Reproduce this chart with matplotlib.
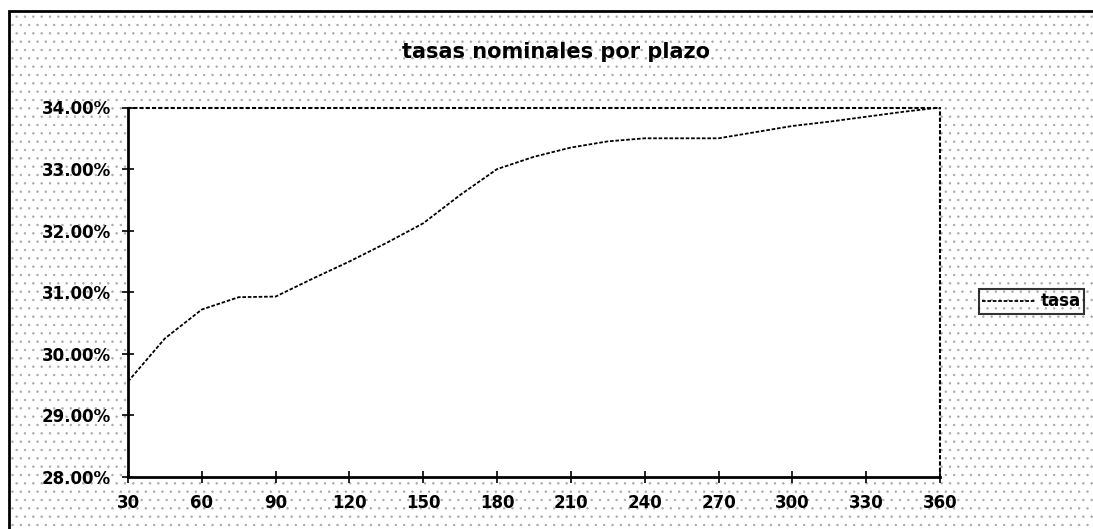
import matplotlib.pyplot as plt
from matplotlib.patches import Rectangle
from matplotlib.ticker import FuncFormatter

# tasa nominal (%) por plazo (dias)
plazos = [30, 45, 60, 75, 90, 105, 120, 135, 150, 165, 180, 195,
          210, 225, 240, 255, 270, 285, 300, 315, 330, 345, 360]
tasas = [29.55, 30.25, 30.72, 30.92, 30.93, 31.22, 31.50, 31.80, 32.12,
         32.58, 33.00, 33.20, 33.35, 33.45, 33.50, 33.50, 33.50, 33.60,
         33.70, 33.77, 33.85, 33.93, 34.00]
xticks = list(range(30, 361, 30))
yticks = [28, 29, 30, 31, 32, 33, 34]

fontsize = 12
plt.rcParams['font.family'] = ['DejaVu Sans']
plt.rcParams['hatch.color'] = '#a8a8a8'
plt.rcParams['hatch.linewidth'] = 0.5

fig = plt.figure(figsize=(10.93, 5.29), dpi=100)

# fondo punteado del area del grafico
bg = Rectangle((9 / 1093, 0), 1 - 9 / 1093, 1 - 11 / 529, transform=fig.transFigure,
               facecolor='white', edgecolor='#a8a8a8', hatch='..', lw=0, zorder=-2)
fig.patches.append(bg)
border = Rectangle((9 / 1093, -0.01), 1.0, 1.01 - 11 / 529, transform=fig.transFigure,
                   fill=False, edgecolor='black', lw=2, zorder=-1)
fig.patches.append(border)

ax = fig.add_axes([128 / 1093, 1 - 477 / 529, (940 - 128) / 1093, (477 - 107.5) / 529])
ax.set_zorder(3)
ax.set_facecolor('white')
ax.plot(plazos, tasas, color='black', lw=1.3, ls=(0, (2, 1)), label='tasa')

ax.set_xlim(30, 360)
ax.set_ylim(28, 34)
ax.set_xticks(xticks)
ax.set_yticks(yticks)
ax.yaxis.set_major_formatter(FuncFormatter(lambda v, p: '%.2f%%' % v))
ax.tick_params(direction='inout', length=9, width=1.2, labelsize=fontsize)
ax.tick_params(axis='y', pad=8)
ax.tick_params(axis='x', pad=8)
for lbl in ax.get_xticklabels() + ax.get_yticklabels():
    lbl.set_fontweight('bold')

for side in ['left', 'bottom']:
    ax.spines[side].set_linewidth(2)
for side in ['top', 'right']:
    ax.spines[side].set_linewidth(1.5)
    ax.spines[side].set_linestyle((0, (1, 2)))

fig.text(556 / 1093, 1 - 52 / 529, 'tasas nominales por plazo',
         ha='center', va='center', fontsize=15, fontweight='bold', zorder=4)

leg = ax.legend(loc='center left', bbox_to_anchor=(1.048, 0.475), frameon=True,
                fancybox=False, fontsize=fontsize, handlelength=3.2, handletextpad=0.3,
                borderpad=0.2, borderaxespad=0)
leg.get_frame().set_edgecolor('black')
leg.get_frame().set_linewidth(1.5)
leg.get_frame().set_facecolor('none')
for t in leg.get_texts():
    t.set_fontweight('bold')

fig.savefig('out.png', dpi=100)
